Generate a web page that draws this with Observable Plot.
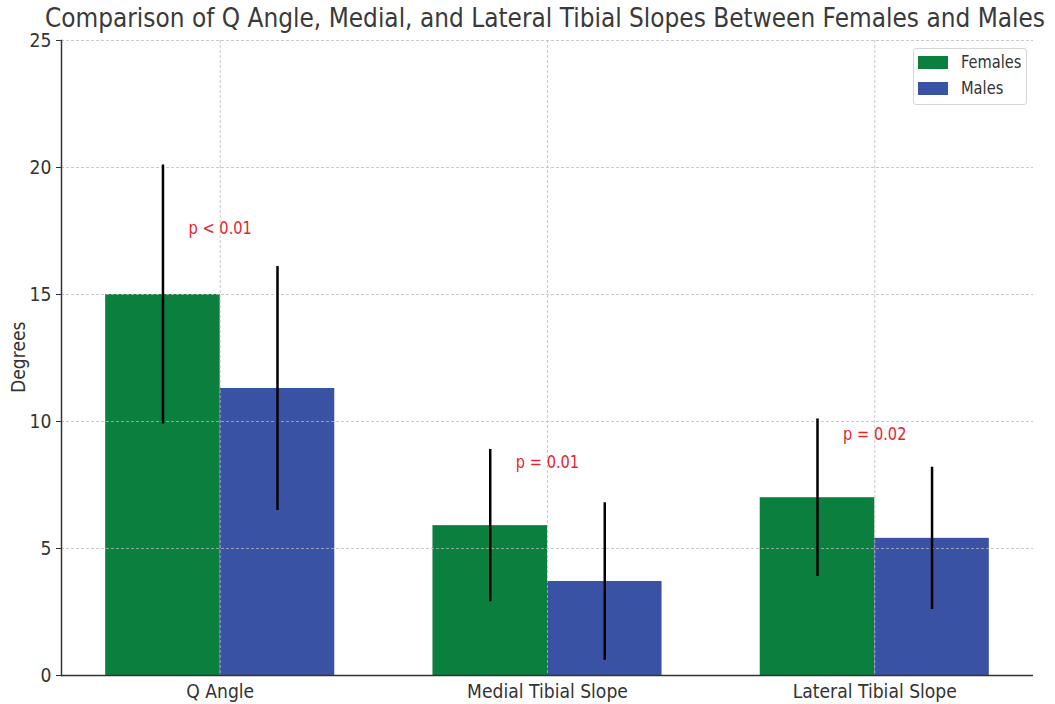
<!DOCTYPE html>
<html>
<head>
<meta charset="utf-8">
<script src="https://cdn.jsdelivr.net/npm/d3@7"></script>
<script src="https://cdn.jsdelivr.net/npm/@observablehq/plot@0.6"></script>
<style>
  body { margin: 0; background: #fff; font-family: "DejaVu Sans", sans-serif; }
  #wrap { position: relative; width: 1055px; height: 704px; overflow: hidden; }
  #title { position: absolute; left: 45px; top: 1px; font-size: 26px; color: #3a3a3a;
           white-space: nowrap; line-height: 34px; transform-origin: left center; }
  #legend { position: absolute; left: 913px; top: 48px; width: 112px; height: 55px;
            border: 1px solid #d6d6d6; border-radius: 3px; background: rgba(255,255,255,0.85); }
  .item { position: absolute; left: 4px; height: 14px; }
  .sw { position: absolute; left: 0; top: 0; width: 30px; height: 13px; }
  .lab { position: absolute; left: 43px; top: -4px; font-size: 17px; color: #333;
         white-space: nowrap; transform: scaleX(0.86); transform-origin: left center; line-height: 20px; }
</style>
</head>
<body>
<div id="wrap">
  <div id="chart"></div>
  <div id="title">Comparison of Q Angle, Medial, and Lateral Tibial Slopes Between Females and Males</div>
  <div id="legend"></div>
</div>
<script>
// ---- data ----
const categories = ["Q Angle", "Medial Tibial Slope", "Lateral Tibial Slope"];
const groups = ["Females", "Males"];
const femaleMeans = [15.0, 5.9, 7.0];
const femaleSD = [5.1, 3.0, 3.1];
const maleMeans = [11.3, 3.7, 5.4];
const maleSD = [4.8, 3.1, 2.8];
const pLabels = ["p < 0.01", "p = 0.01", "p = 0.02"];
const pLabelY = [17.6, 8.4, 9.5];
const yTicks = [0, 5, 10, 15, 20, 25];
const colors = ["#0b7f3e", "#3a52a4"];
const barWidth = 0.35;

// ---- table ----
const rows = [];
categories.forEach((c, i) => {
  rows.push({cat: c, i, group: "Females", value: femaleMeans[i], sd: femaleSD[i], x1: i - barWidth, x2: i});
  rows.push({cat: c, i, group: "Males", value: maleMeans[i], sd: maleSD[i], x1: i, x2: i + barWidth});
});
const catIdx = categories.map((c, i) => i);
const lo = -barWidth, hi = categories.length - 1 + barWidth;
const pad = (hi - lo) * 0.05;

const gridStyle = {stroke: "#b8b8b8", strokeOpacity: 0.75, strokeDasharray: "3,2", strokeWidth: 1};

const chart = Plot.plot({
  width: 1055, height: 704,
  marginTop: 40, marginBottom: 29, marginLeft: 61, marginRight: 22,
  style: {fontFamily: "DejaVu Sans", fontSize: "20px", color: "#333", background: "white", overflow: "visible"},
  x: {type: "linear", domain: [lo - pad, hi + pad]},
  y: {domain: [0, 25]},
  color: {domain: groups, range: colors},
  marks: [
    Plot.rect(rows, {x1: "x1", x2: "x2", y1: 0, y2: "value", fill: "group"}),
    Plot.gridY(yTicks, gridStyle),
    Plot.gridX(catIdx, gridStyle),
    Plot.ruleX(rows, {x: d => (d.x1 + d.x2) / 2, y1: d => d.value - d.sd, y2: d => d.value + d.sd,
                      stroke: "black", strokeWidth: 2.5}),
    Plot.text(catIdx, {x: d => d, y: d => pLabelY[d], text: d => pLabels[d], fill: "#e3262c", fontSize: 17}),
    Plot.axisY(yTicks, {tickSize: 5, tickPadding: 5, label: null, stroke: "#333", fill: "#333", fontSize: 20}),
    Plot.axisX(catIdx, {tickSize: 0, tickPadding: 8, tickFormat: i => categories[i], label: null, fill: "#333", fontSize: 20}),
    Plot.ruleY([0], {stroke: "#333", strokeWidth: 1.5}),
    Plot.frame({anchor: "left", stroke: "#333", strokeWidth: 1.5}),
    Plot.text(["Degrees"], {frameAnchor: "left", rotate: -90, dx: -43, dy: 35, fontSize: 20, fill: "#333"})
  ]
});
document.getElementById("chart").appendChild(chart);

// condense glyphs horizontally to match the reference's narrow lettering
chart.querySelectorAll("text").forEach(t => {
  const tr = t.getAttribute("transform") || "";
  t.setAttribute("transform", tr + " scale(0.86,1)");
});

// title: fit it to the reference's width
const title = document.getElementById("title");
const w = title.getBoundingClientRect().width;
title.style.transform = `scaleX(${1000 / w})`;

// legend
const legend = document.getElementById("legend");
groups.forEach((g, k) => {
  const it = document.createElement("div");
  it.className = "item";
  it.style.top = (7 + k * 26) + "px";
  it.innerHTML = `<div class="sw" style="background:${colors[k]}"></div><div class="lab">${g}</div>`;
  legend.appendChild(it);
});
</script>
</body>
</html>
